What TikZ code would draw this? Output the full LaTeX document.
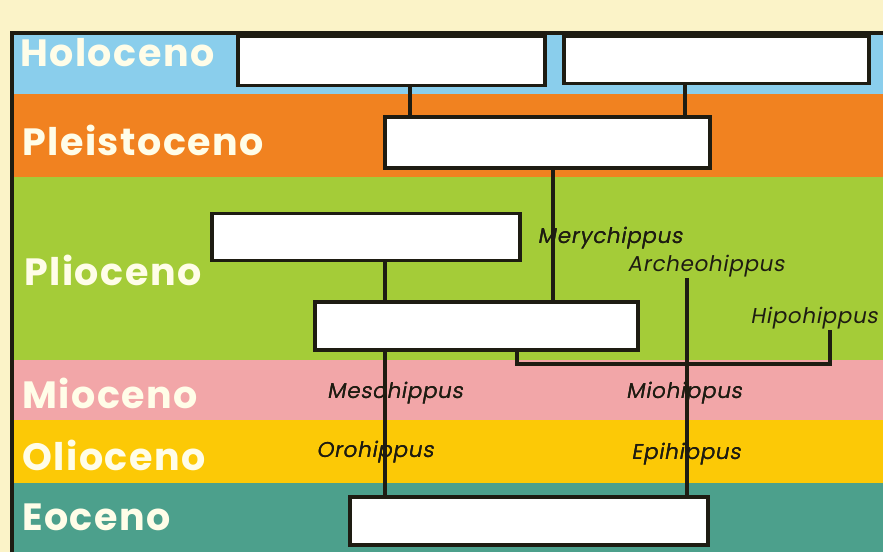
\documentclass[tikz,border=0pt]{standalone}
\usepackage{fontspec}
\newfontfamily\erafont[LetterSpace=4]{Poppins}
\newfontfamily\spfont[FakeSlant=0.18,LetterSpace=3]{Poppins}
\definecolor{cream}{RGB}{251,243,200}
\definecolor{holo}{RGB}{138,206,236}
\definecolor{pleis}{RGB}{241,130,32}
\definecolor{plio}{RGB}{164,204,56}
\definecolor{mio}{RGB}{242,166,168}
\definecolor{oli}{RGB}{252,201,6}
\definecolor{eoc}{RGB}{76,160,140}
\definecolor{eratext}{RGB}{255,253,232}
\definecolor{ink}{RGB}{30,28,18}
\tikzset{
  band/.style={draw=none},
  erabox/.style={draw=ink, line width=3.5pt, fill=white, inner sep=0pt},
  link/.style={draw=ink, line width=3.5pt},
  eralabel/.style={anchor=west, text=eratext, font=\erafont\bfseries\fontsize{38}{42}\selectfont, inner sep=0pt},
  genus/.style={text=ink, font=\spfont\fontsize{21.5}{24}\selectfont, inner sep=1pt}
}
\begin{document}
\begin{tikzpicture}[x=1pt,y=-1pt]
\useasboundingbox (0,0) rectangle (883,552);
% background and bands
\fill[cream] (0,0) rectangle (883,552);
\fill[holo] (12,33) rectangle (883,94);
\fill[pleis] (12,94) rectangle (883,177);
\fill[plio] (12,177) rectangle (883,360);
\fill[mio] (12,360) rectangle (883,420);
\fill[oli] (12,420) rectangle (883,483);
\fill[eoc] (12,483) rectangle (883,552);
\draw[ink, line width=3.5pt] (12,552) -- (12,33) -- (883,33);
% era labels
\node[eralabel] (tholo) at (20,53) {Holoceno};
\node[eralabel] (tpleis) at (22,140) {Pleistoceno};
\node[eralabel] (tplio) at (24,270) {Plioceno};
\node[eralabel] (tmio) at (22,393) {Mioceno};
\node[eralabel] (toli) at (22,455) {Olioceno};
\node[eralabel] (teoc) at (22,517) {Eoceno};
% boxes
\node[erabox, minimum width=307pt, minimum height=49pt] (h1) at (391.5,61) {};
\node[erabox, minimum width=305pt, minimum height=47pt] (h2) at (716.5,60) {};
\node[erabox, minimum width=325pt, minimum height=51pt] (p) at (547.5,142.5) {};
\node[erabox, minimum width=308pt, minimum height=47pt] (l1) at (366,237) {};
\node[erabox, minimum width=323pt, minimum height=48pt] (l2) at (476.5,326) {};
\node[erabox, minimum width=358pt, minimum height=48pt] (e) at (529,521) {};
% genus labels
\node[genus] (merych) at (610,238) {Merychippus};
\node[genus] (archeo) at (706,266) {Archeohippus};
\node[genus] (hipo) at (814,318) {Hipohippus};
\node[genus] (meso) at (395,393) {Mesohippus};
\node[genus] (mioh) at (684,393) {Miohippus};
\node[genus] (oroh) at (375,452) {Orohippus};
\node[genus] (epih) at (686,454) {Epihippus};
% x positions
\coordinate (xa) at (410,0);
\coordinate (xb) at (685,0);
\coordinate (xc) at (553,0);
\coordinate (xd) at (385,0);
\coordinate (xe) at (517,0);
\coordinate (xf) at (830,0);
\coordinate (xg) at (687,0);
\coordinate (yj) at (0,364);
% connectors
\draw[link] (h1.south -| xa) -- (p.north -| xa);
\draw[link] (h2.south -| xb) -- (p.north -| xb);
\draw[link] (p.south -| xc) -- (l2.north -| xc);
\draw[link] (l1.south -| xd) -- (l2.north -| xd);
\draw[link] (l2.south -| xd) -- (e.north -| xd);
\draw[link] (l2.south -| xe) -- (yj -| xe) -- (yj -| xf) -- (hipo.south -| xf);
\draw[link] (archeo.south -| xg) -- (e.north -| xg);
% redraw labels over lines
\node[genus] at (meso) {Mesohippus};
\node[genus] at (mioh) {Miohippus};
\node[genus] at (oroh) {Orohippus};
\node[genus] at (epih) {Epihippus};
\node[genus] at (merych) {Merychippus};
\end{tikzpicture}
\end{document}
